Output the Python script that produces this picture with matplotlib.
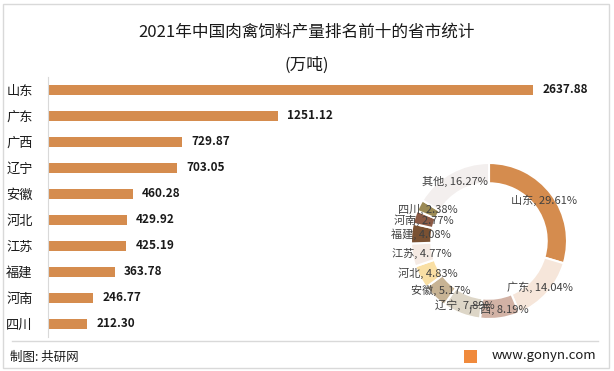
import matplotlib
matplotlib.use("Agg")
import matplotlib.pyplot as plt
from matplotlib.patches import Rectangle

plt.rcParams['font.family'] = ['Noto Sans CJK SC', 'DejaVu Sans']

provinces = ['山东', '广东', '广西', '辽宁', '安徽', '河北', '江苏', '福建', '河南', '四川']
output = [2637.88, 1251.12, 729.87, 703.05, 460.28, 429.92, 425.19, 363.78, 246.77, 212.30]

share_names = ['山东', '广东', '广西', '辽宁', '安徽', '河北', '江苏', '福建', '河南', '四川', '其他']
share_pct = [29.61, 14.04, 8.19, 7.89, 5.17, 4.83, 4.77, 4.08, 2.77, 2.38, 16.27]
share_colors = ['#D58C4E', '#F6E6DA', '#D2B2A5', '#DDD6C7', '#C7B394', '#F9DFA4',
                '#F5EAE3', '#7A5132', '#8B5A45', '#9B8A55', '#F3EFEE']

W, H = 614, 371
fig = plt.figure(figsize=(W / 100, H / 100), dpi=100)

# outer frame
fig.patches.append(Rectangle((3 / W, 3 / H), 606 / W, 364 / H, transform=fig.transFigure,
                             fill=False, edgecolor='#D9D9D9', linewidth=1))

fig.text(307 / W, 1 - 32 / H, '2021年中国肉禽饲料产量排名前十的省市统计',
         ha='center', va='center', fontsize=12, color='#1a1a1a')
fig.text(307 / W, 1 - 65 / H, '(万吨)', ha='center', va='center', fontsize=12, color='#1a1a1a')

# bar chart
xmax = 3000
ax = fig.add_axes([48 / W, 1 - 337 / H, 485 * xmax / 2637.88 / W, 260 / H])
y = list(range(len(provinces)))
ax.barh(y, output, height=0.36, color='#D58C4E')
for yi, v in zip(y, output):
    ax.text(v + 50, yi, f'{v:.2f}', va='center', ha='left', fontsize=8.5,
            fontweight='bold', color='#1a1a1a')
ax.set_xlim(0, xmax)
ax.set_ylim(len(provinces) - 0.5, -0.5)
ax.set_yticks(y)
ax.set_yticklabels(provinces, fontsize=9.5, color='#1a1a1a')
ax.tick_params(axis='y', length=0, pad=11)
ax.set_xticks([])
for s in ['top', 'right', 'bottom']:
    ax.spines[s].set_visible(False)
ax.spines['left'].set_color('#D9D9D9')
ax.patch.set_alpha(0)

# donut
R = 78
pax = fig.add_axes([(489 - R) / W, (H - 241 - R) / H, 2 * R / W, 2 * R / H])
labels = [f'{n}, {p:.2f}%' for n, p in zip(share_names, share_pct)]
wedges, texts = pax.pie(share_pct, colors=share_colors, startangle=90, counterclock=False,
                        radius=1, labels=labels, labeldistance=0.88,
                        wedgeprops=dict(width=0.26, edgecolor='white', linewidth=1.5),
                        textprops=dict(fontsize=8, color='#404040'))
for t in texts:
    t.set_ha('center')
    t.set_va('center')
pax.set_xlim(-1, 1)
pax.set_ylim(-1, 1)
pax.set_aspect('equal')

# footer
fig.add_artist(plt.Line2D([12 / W, 598 / W], [1 - 341 / H, 1 - 341 / H],
                          color='#D9D9D9', linewidth=1))
fig.text(10 / W, 1 - 357 / H, '制图: 共研网', ha='left', va='center', fontsize=9, color='#1a1a1a')
fig.patches.append(Rectangle((464 / W, 1 - 363 / H), 13 / W, 13 / H, transform=fig.transFigure,
                             facecolor='#F08A3C', edgecolor='none'))
fig.text(596 / W, 1 - 356 / H, 'www.gonyn.com', ha='right', va='center', fontsize=9.5, color='#1a1a1a')

fig.savefig('out.png', dpi=100)
